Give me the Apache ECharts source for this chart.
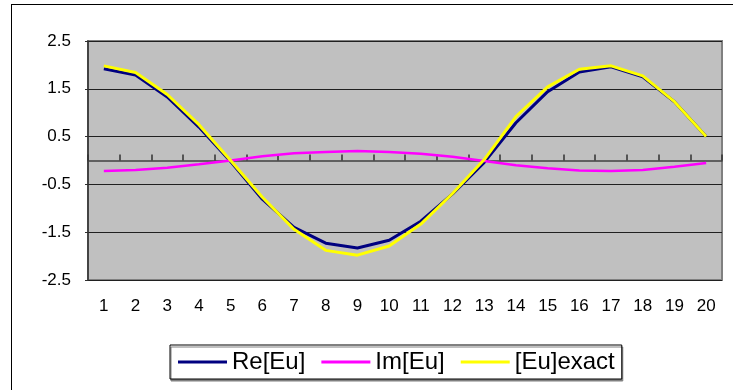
<!DOCTYPE html>
<html>
<head>
<meta charset="utf-8">
<script src="https://cdn.jsdelivr.net/npm/echarts@6/dist/echarts.min.js"></script>
<style>
  html, body { margin: 0; padding: 0; background: #fff; overflow: hidden; }
  #frame { position: absolute; left: 11px; top: 4px; width: 900px; height: 600px; border: 1px solid #000; }
  #chart { position: absolute; left: 0; top: 0; width: 733px; height: 390px; }
</style>
</head>
<body>
<div id="frame"></div>
<div id="chart"></div>
<script>
// 数据
const categories = ["1","2","3","4","5","6","7","8","9","10","11","12","13","14","15","16","17","18","19","20"];
const reEu = [1.92, 1.79, 1.33, 0.70, -0.02, -0.81, -1.40, -1.73, -1.83, -1.67, -1.27, -0.70, -0.04, 0.79, 1.44, 1.85, 1.96, 1.75, 1.23, 0.50];
const imEu = [-0.22, -0.20, -0.15, -0.08, 0.00, 0.09, 0.15, 0.18, 0.20, 0.18, 0.14, 0.08, -0.01, -0.10, -0.16, -0.21, -0.22, -0.20, -0.13, -0.05];
const exactEu = [1.98, 1.84, 1.38, 0.75, 0.00, -0.77, -1.44, -1.88, -1.98, -1.79, -1.33, -0.69, 0.02, 0.92, 1.54, 1.91, 1.98, 1.77, 1.23, 0.50];
const seriesNames = ["Re[Eu]", "Im[Eu]", "[Eu]exact"];

const font = "'Liberation Sans', Arial, sans-serif";
const myChart = echarts.init(document.getElementById("chart"));
myChart.setOption({
  animation: false,
  color: ["#000080", "#ff00ff", "#ffff00"],
  grid: {
    left: 88, right: 11, top: 41, bottom: 110,
    show: true, backgroundColor: "#c0c0c0",
    borderColor: "#808080", borderWidth: 2
  },
  legend: {
    data: seriesNames,
    left: 170, top: 345,
    icon: "rect", itemWidth: 49, itemHeight: 3, itemGap: 16,
    padding: [5, 7, 5, 8],
    borderColor: "#000", borderWidth: 1,
    backgroundColor: "#fff",
    shadowColor: "#808080", shadowOffsetX: 1, shadowOffsetY: 2, shadowBlur: 0,
    textStyle: { fontFamily: font, fontSize: 24, color: "#000" }
  },
  xAxis: [
    {
      // 零线上的刻度
      type: "category", data: categories, position: "bottom",
      axisLine: { onZero: true, lineStyle: { color: "#404040", width: 1.5 } },
      axisTick: { show: true, interval: 0, inside: true, length: 6, lineStyle: { color: "#303030", width: 1.5 } },
      axisLabel: { show: false, interval: 0 }
    },
    {
      // 底部标签
      type: "category", data: categories, position: "bottom",
      axisLine: { show: false, onZero: false },
      axisTick: { show: false },
      axisLabel: { margin: 18, fontFamily: font, fontSize: 17, color: "#000", interval: 0 }
    }
  ],
  yAxis: {
    type: "value", min: -2.5, max: 2.5, interval: 1,
    axisLine: { show: true, lineStyle: { color: "#303030", width: 1.5 } },
    axisTick: { show: true, length: 3, lineStyle: { color: "#303030" } },
    axisLabel: { margin: 17, fontFamily: font, fontSize: 17, color: "#000" },
    splitLine: { lineStyle: { color: "#202020", width: 1 } }
  },
  series: [
    { name: seriesNames[0], type: "line", data: reEu, showSymbol: false, lineStyle: { width: 3 } },
    { name: seriesNames[1], type: "line", data: imEu, showSymbol: false, lineStyle: { width: 2.5 } },
    { name: seriesNames[2], type: "line", data: exactEu, showSymbol: false, lineStyle: { width: 3 } }
  ]
});
window.addEventListener("resize", () => {
  myChart.resize();
});
</script>
</body>
</html>
